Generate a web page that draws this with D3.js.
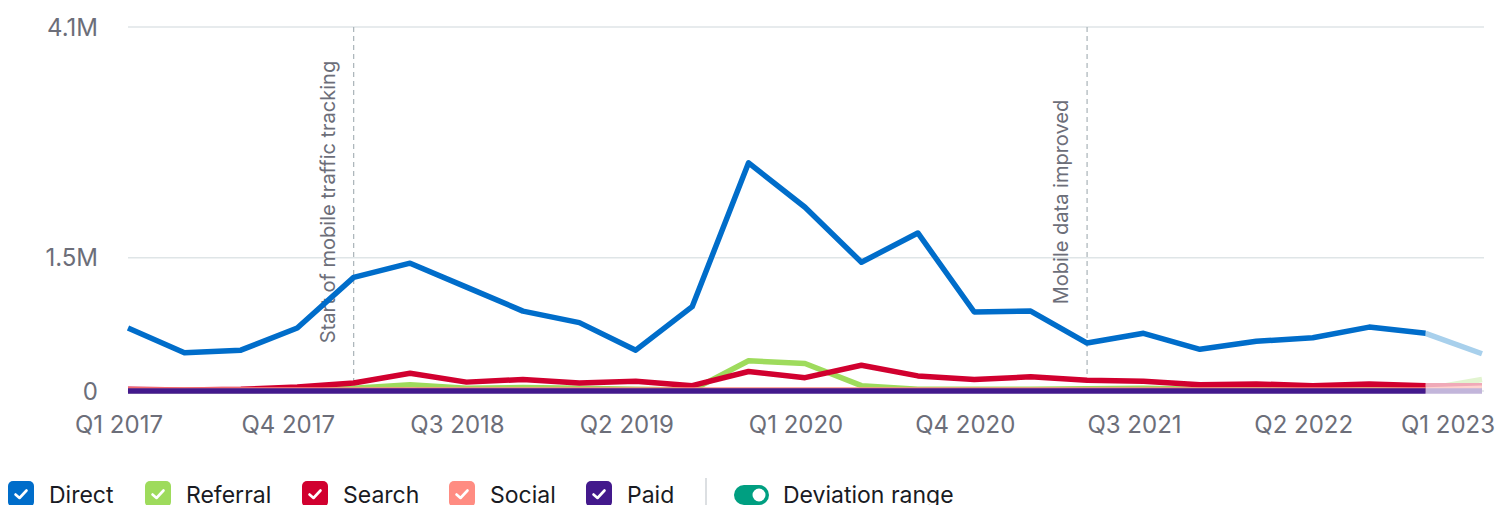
<!DOCTYPE html>
<html>
<head>
  <meta charset="UTF-8">
  <title>Traffic by channel</title>
  <script src="https://d3js.org/d3.v7.min.js"></script>
  <style>
    body {
      margin: 0;
      padding: 0;
      background: #fff;
      font-family: Inter, "Noto Sans", sans-serif;
    }
    .grid line { stroke: #dfe5e7; stroke-width: 1.5; }
    .axis text { fill: #6c6e79; font-size: 24px; }
    .note text { fill: #6c6e79; font-size: 20px; }
    .series { fill: none; stroke-width: 5.5; stroke-linejoin: round; stroke-linecap: butt; }
    .legend text { fill: #191b23; font-size: 23px; }
  </style>
</head>
<body>
  <svg id="chart" width="1498" height="505"></svg>

  <script>
    const quarters = [
      "Q1 2017", "Q2 2017", "Q3 2017", "Q4 2017",
      "Q1 2018", "Q2 2018", "Q3 2018", "Q4 2018",
      "Q1 2019", "Q2 2019", "Q3 2019", "Q4 2019",
      "Q1 2020", "Q2 2020", "Q3 2020", "Q4 2020",
      "Q1 2021", "Q2 2021", "Q3 2021", "Q4 2021",
      "Q1 2022", "Q2 2022", "Q3 2022", "Q4 2022",
      "Q1 2023"
    ];

    // values in millions of visits; the last quarter is still incomplete
    const direct   = [0.71, 0.43, 0.46, 0.71, 1.28, 1.44, 1.17, 0.90, 0.77, 0.46, 0.95, 2.57, 2.07, 1.45, 1.78, 0.89, 0.90, 0.54, 0.65, 0.47, 0.56, 0.60, 0.72, 0.65, 0.42];
    const referral = [0.005, 0.005, 0.005, 0.01, 0.03, 0.07, 0.03, 0.04, 0.03, 0.02, 0.01, 0.34, 0.31, 0.06, 0.02, 0.02, 0.02, 0.025, 0.03, 0.02, 0.02, 0.02, 0.02, 0.02, 0.13];
    const search   = [0.02, 0.01, 0.02, 0.045, 0.09, 0.20, 0.10, 0.13, 0.09, 0.11, 0.06, 0.22, 0.15, 0.29, 0.17, 0.13, 0.16, 0.12, 0.11, 0.07, 0.08, 0.06, 0.08, 0.06, 0.06];
    const social   = [0.01, 0.01, 0.01, 0.01, 0.01, 0.01, 0.01, 0.01, 0.01, 0.01, 0.01, 0.01, 0.01, 0.01, 0.01, 0.01, 0.01, 0.01, 0.01, 0.01, 0.01, 0.01, 0.01, 0.01, 0.03];
    const paid     = [0, 0, 0, 0, 0, 0, 0, 0, 0, 0, 0, 0, 0, 0, 0, 0, 0, 0, 0, 0, 0, 0, 0, 0, 0];

    const yTicks = [0, 1.5, 4.1];
    const yTickLabels = ["0", "1.5M", "4.1M"];
    const xTickLabels = ["Q1 2017", "Q4 2017", "Q3 2018", "Q2 2019", "Q1 2020", "Q4 2020", "Q3 2021", "Q2 2022", "Q1 2023"];

    const notes = [
      { quarter: "Q1 2018", text: "Start of mobile traffic tracking" },
      { quarter: "Q2 2021", text: "Mobile data improved" }
    ];

    const seriesList = [
      { name: "Direct",   values: direct,   color: "#006dca", faded: "#a8d0ec" },
      { name: "Referral", values: referral, color: "#9edb5c", faded: "#e2f4d0" },
      { name: "Search",   values: search,   color: "#d1002f", faded: "#f0a9b8" },
      { name: "Social",   values: social,   color: "#ff8c82", faded: "#ffd3cf" },
      { name: "Paid",     values: paid,     color: "#43198c", faded: "#c2b5da" }
    ];

    const svg = d3.select("#chart");
    const plotLeft = 128, plotRight = 1482, plotTop = 27, plotBottom = 391;

    const x = d3.scalePoint().domain(quarters).range([plotLeft, plotRight]);
    const y = d3.scaleLinear().domain([0, 4.1]).range([plotBottom, plotTop]);

    // horizontal grid
    svg.append("g")
      .attr("class", "grid")
      .selectAll("line")
      .data(yTicks)
      .join("line")
        .attr("x1", plotLeft)
        .attr("x2", plotRight + 2)
        .attr("y1", d => y(d))
        .attr("y2", d => y(d));

    // y labels
    svg.append("g")
      .attr("class", "axis")
      .selectAll("text")
      .data(yTicks)
      .join("text")
        .attr("x", 98)
        .attr("y", d => y(d))
        .attr("dy", "0.36em")
        .attr("text-anchor", "end")
        .text((d, i) => yTickLabels[i]);

    // x labels
    const lastLabel = xTickLabels.length - 1;
    svg.append("g")
      .attr("class", "axis")
      .selectAll("text")
      .data(xTickLabels)
      .join("text")
        .attr("x", (d, i) => i === lastLabel ? plotRight + 13 : x(d) - 9)
        .attr("y", 433)
        .attr("text-anchor", (d, i) => i === lastLabel ? "end" : "middle")
        .text(d => d);

    // annotation lines
    const note = svg.append("g").attr("class", "note");
    notes.forEach(n => {
      const nx = x(n.quarter);
      note.append("line")
        .attr("x1", nx).attr("x2", nx)
        .attr("y1", plotTop).attr("y2", plotBottom + 4)
        .attr("stroke", "#a9b3b8")
        .attr("stroke-width", 1.2)
        .attr("stroke-dasharray", "5,4");
      note.append("text")
        .attr("transform", `translate(${nx - 19},${202}) rotate(-90)`)
        .attr("text-anchor", "middle")
        .text(n.text);
    });

    const line = d3.line()
      .x(d => x(d.q))
      .y(d => y(d.v));

    const last = quarters.length - 1;
    seriesList.forEach(s => {
      const pts = s.values.map((v, i) => ({ q: quarters[i], v }));
      svg.append("path")
        .datum(pts.slice(last - 1))
        .attr("class", "series")
        .attr("stroke", s.faded)
        .attr("d", line);
      svg.append("path")
        .datum(pts.slice(0, last))
        .attr("class", "series")
        .attr("stroke", s.color)
        .attr("d", line);
    });

    // legend
    const legend = svg.append("g").attr("class", "legend");
    const legendX = [8, 145, 302, 449, 586];
    seriesList.forEach((s, i) => {
      const g = legend.append("g").attr("transform", `translate(${legendX[i]},481)`);
      g.append("rect")
        .attr("width", 26).attr("height", 26)
        .attr("rx", 5)
        .attr("fill", s.color);
      g.append("path")
        .attr("d", "M7.5,13.5 L11.5,17 L18.5,9.5")
        .attr("fill", "none")
        .attr("stroke", "#fff")
        .attr("stroke-width", 2.6)
        .attr("stroke-linecap", "round")
        .attr("stroke-linejoin", "round");
      g.append("text")
        .attr("x", 41)
        .attr("y", 22)
        .text(s.name);
    });

    legend.append("line")
      .attr("x1", 706).attr("x2", 706)
      .attr("y1", 478).attr("y2", 505)
      .attr("stroke", "#d1d4d8")
      .attr("stroke-width", 1.5);

    legend.append("rect")
      .attr("x", 734).attr("y", 485)
      .attr("width", 35).attr("height", 20)
      .attr("rx", 10)
      .attr("fill", "#009f81");
    legend.append("circle")
      .attr("cx", 759).attr("cy", 495)
      .attr("r", 6.5)
      .attr("fill", "#fff");
    legend.append("text")
      .attr("x", 783)
      .attr("y", 503)
      .text("Deviation range");
  </script>
</body>
</html>
